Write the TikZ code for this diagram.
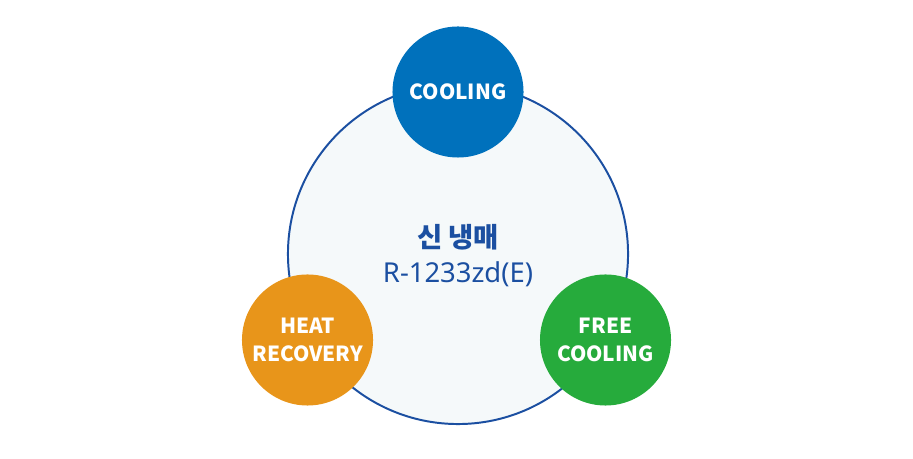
\documentclass[tikz,border=0pt]{standalone}
\usepackage{fontspec}
\setmainfont{Noto Sans}
\newfontfamily\krfont{Noto Sans CJK KR}
\definecolor{ringblue}{HTML}{1B4FA1}
\definecolor{ringfill}{HTML}{F5F9FA}
\definecolor{coolblue}{HTML}{0071BC}
\definecolor{heatorange}{HTML}{E8951A}
\definecolor{freegreen}{HTML}{26AB3C}
\tikzset{
    mode/.style={circle, minimum size=3.275cm, inner sep=0pt, text=white, align=center,
        font=\krfont\bfseries\fontsize{14.8}{20}\selectfont}
}
\begin{document}
\begin{tikzpicture}[x=0.025cm,y=0.025cm]
            \useasboundingbox (0,0) rectangle (913,459);
            \node[circle, draw=ringblue, fill=ringfill, line width=1.4pt, minimum size=8.5cm, inner sep=0pt] (ring) at (458,205) {};
            \node[text=ringblue, font=\krfont\bfseries\fontsize{19.5}{20}\selectfont] (kor) at (458,222) {신 냉매};
            \node[text=ringblue, font=\fontsize{19.5}{20}\selectfont] (gas) at (458,185) {R-1233zd(E)};

            \node[mode, fill=coolblue] (cool) at (458,367) {COOLING};
            \node[mode, fill=heatorange] (heat) at (307.5,119) {HEAT\\RECOVERY};
            \node[mode, fill=freegreen] (free) at (605.5,119) {FREE\\COOLING};
        \end{tikzpicture}
\end{document}
